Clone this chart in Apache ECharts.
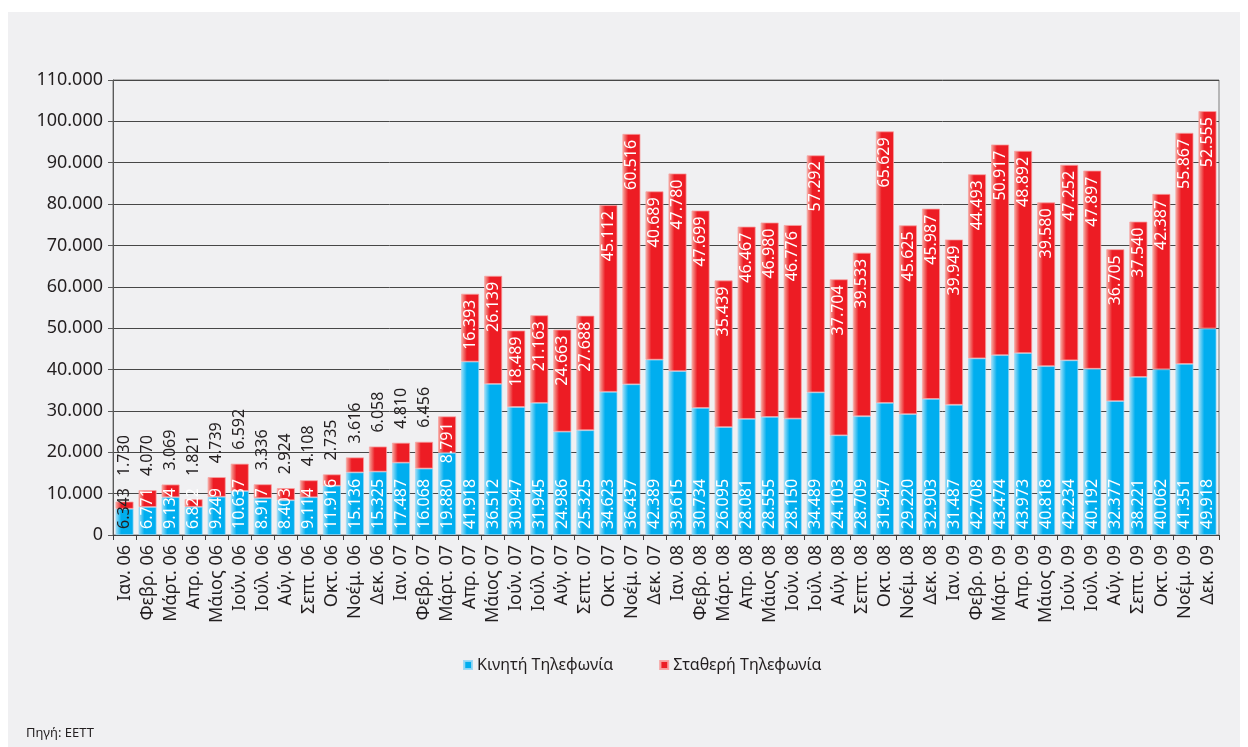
<!DOCTYPE html>
<html>
<head>
<meta charset="utf-8">
<script src="https://cdn.jsdelivr.net/npm/echarts@6/dist/echarts.min.js"></script>
<style>
  html, body { margin: 0; padding: 0; background: #ffffff; }
  #chart { width: 1248px; height: 747px; }
</style>
</head>
<body>
<div id="chart"></div>
<script>
// Monthly figures, January 2006 – December 2009
const categories = [
  'Ιαν. 06', 'Φεβρ. 06', 'Μάρτ. 06', 'Απρ. 06', 'Μάιος 06', 'Ιούν. 06', 'Ιούλ. 06', 'Αύγ. 06', 'Σεπτ. 06', 'Οκτ. 06', 'Νοέμ. 06', 'Δεκ. 06',
  'Ιαν. 07', 'Φεβρ. 07', 'Μάρτ. 07', 'Απρ. 07', 'Μάιος 07', 'Ιούν. 07', 'Ιούλ. 07', 'Αύγ. 07', 'Σεπτ. 07', 'Οκτ. 07', 'Νοέμ. 07', 'Δεκ. 07',
  'Ιαν. 08', 'Φεβρ. 08', 'Μάρτ. 08', 'Απρ. 08', 'Μάιος 08', 'Ιούν. 08', 'Ιούλ. 08', 'Αύγ. 08', 'Σεπτ. 08', 'Οκτ. 08', 'Νοέμ. 08', 'Δεκ. 08',
  'Ιαν. 09', 'Φεβρ. 09', 'Μάρτ. 09', 'Απρ. 09', 'Μάιος 09', 'Ιούν. 09', 'Ιούλ. 09', 'Αύγ. 09', 'Σεπτ. 09', 'Οκτ. 09', 'Νοέμ. 09', 'Δεκ. 09'
];

// Κινητή Τηλεφωνία
const mobile = [
  6343, 6771, 9134, 6822, 9249, 10637, 8917, 8403, 9114, 11916, 15136, 15325,
  17487, 16068, 19880, 41918, 36512, 30947, 31945, 24986, 25325, 34623, 36437, 42389,
  39615, 30734, 26095, 28081, 28555, 28150, 34489, 24103, 28709, 31947, 29220, 32903,
  31487, 42708, 43474, 43973, 40818, 42234, 40192, 32377, 38221, 40062, 41351, 49918
];

// Σταθερή Τηλεφωνία
const fixed = [
  1730, 4070, 3069, 1821, 4739, 6592, 3336, 2924, 4108, 2735, 3616, 6058,
  4810, 6456, 8791, 16393, 26139, 18489, 21163, 24663, 27688, 45112, 60516, 40689,
  47780, 47699, 35439, 46467, 46980, 46776, 57292, 37704, 39533, 65629, 45625, 45987,
  39949, 44493, 50917, 48892, 39580, 47252, 47897, 36705, 37540, 42387, 55867, 52555
];

const seriesNames = ['Κινητή Τηλεφωνία', 'Σταθερή Τηλεφωνία'];
const sourceNote = 'Πηγή: ΕΕΤΤ';

const yMin = 0, yMax = 110000, yStep = 10000;

// Segments shorter than this keep their label above the bar
const insideLabelMinimum = 7000;
// The shortest mobile segment carries a dark label
const darkMobileLabelBelow = 6500;

const FONT = '"Noto Sans", "Open Sans", sans-serif';
const TEXT = '#231f20';
const LABEL_SIZE = 16;
const PLOT_TOP = 80, PLOT_BOTTOM = 212, CHART_H = 747;
const PLOT_H = CHART_H - PLOT_TOP - PLOT_BOTTOM;

function thousands(n) {
  return String(Math.round(n)).replace(/\B(?=(\d{3})+(?!\d))/g, '.');
}

// rough text run length for the rotated value labels
function labelLength(n) {
  const s = thousands(n);
  let w = 0;
  for (const ch of s) w += ch === '.' ? 0.27 : 0.572;
  return w * LABEL_SIZE;
}

function sheen(light, base) {
  return new echarts.graphic.LinearGradient(0, 0, 1, 0, [
    { offset: 0, color: light },
    { offset: 0.32, color: base },
    { offset: 1, color: base }
  ]);
}

const baseLabel = {
  show: true,
  rotate: 90,
  verticalAlign: 'middle',
  fontFamily: FONT,
  fontSize: LABEL_SIZE,
  formatter: p => thousands(p.value)
};

const insideTopLabel = Object.assign({}, baseLabel, {
  position: 'insideTop',
  align: 'right',
  distance: 6,
  color: '#ffffff'
});

const insideBottomLabel = Object.assign({}, baseLabel, {
  position: 'insideBottom',
  align: 'left',
  distance: 6,
  color: '#ffffff'
});

// Label placed above a short segment, lifted clear of the label underneath it
function aboveLabel(i) {
  const px = v => v / (yMax - yMin) * PLOT_H;
  const barTop = px(mobile[i] + fixed[i]);
  const lowerLabelTop = 6 + labelLength(mobile[i]);
  const gap = Math.max(14, lowerLabelTop - barTop + 12);
  return Object.assign({}, baseLabel, {
    position: 'top',
    align: 'left',
    distance: gap,
    color: TEXT
  });
}

const chart = echarts.init(document.getElementById('chart'), null, { renderer: 'canvas' });

chart.setOption({
  backgroundColor: '#ffffff',
  animation: false,
  textStyle: { fontFamily: FONT, color: TEXT },
  graphic: [
    {
      type: 'rect',
      z: -10,
      shape: { x: 8, y: 12, width: 1232, height: 740 },
      style: { fill: '#f0f0f2' },
      silent: true
    },
    {
      type: 'text',
      left: 26,
      top: 727,
      style: { text: sourceNote, font: '13px ' + FONT, fill: TEXT }
    }
  ],
  grid: {
    left: 113,
    right: 29,
    top: PLOT_TOP,
    bottom: PLOT_BOTTOM,
    show: true,
    borderColor: '#7d7d7d',
    borderWidth: 1,
    backgroundColor: 'transparent'
  },
  legend: {
    left: 458,
    top: 652,
    itemWidth: 8,
    itemHeight: 8,
    itemGap: 46,
    icon: 'rect',
    textStyle: { fontFamily: FONT, fontSize: 16, color: TEXT },
    data: seriesNames
  },
  xAxis: {
    type: 'category',
    data: categories,
    axisLine: { show: true, lineStyle: { color: '#3c3c3c', width: 1 } },
    axisTick: { show: true, alignWithLabel: false, length: 5, lineStyle: { color: '#3c3c3c' } },
    axisLabel: {
      rotate: 90,
      interval: 0,
      margin: 10,
      fontFamily: FONT,
      fontSize: 18,
      color: TEXT
    }
  },
  yAxis: {
    type: 'value',
    min: yMin,
    max: yMax,
    interval: yStep,
    axisLine: { show: true, lineStyle: { color: '#5a5a5a', width: 1 } },
    axisTick: { show: true, length: 5, lineStyle: { color: '#5a5a5a' } },
    splitLine: { show: true, lineStyle: { color: '#474747', width: 1 } },
    axisLabel: {
      margin: 10,
      fontFamily: FONT,
      fontSize: 18,
      color: TEXT,
      formatter: v => thousands(v)
    }
  },
  series: [
    {
      name: seriesNames[0],
      type: 'bar',
      stack: 'total',
      barCategoryGap: '22%',
      itemStyle: {
        color: sheen('#a8e2f8', '#00aeef'),
        borderColor: 'rgba(150,215,245,0.9)',
        borderWidth: 0.8
      },
      label: insideBottomLabel,
      data: mobile.map(v => ({
        value: v,
        label: v < darkMobileLabelBelow
          ? Object.assign({}, insideBottomLabel, { color: TEXT })
          : insideBottomLabel
      }))
    },
    {
      name: seriesNames[1],
      type: 'bar',
      stack: 'total',
      barCategoryGap: '22%',
      itemStyle: {
        color: sheen('#f6b0a4', '#ed1c24'),
        borderColor: 'rgba(248,160,160,0.95)',
        borderWidth: 0.8
      },
      label: insideTopLabel,
      data: fixed.map((v, i) => ({
        value: v,
        label: v < insideLabelMinimum ? aboveLabel(i) : insideTopLabel
      }))
    }
  ]
});
</script>
</body>
</html>
